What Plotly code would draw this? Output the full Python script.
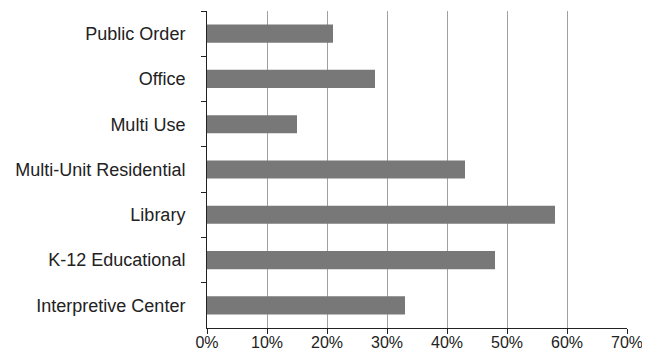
import plotly.graph_objects as go

categories = ["Public Order", "Office", "Multi Use", "Multi-Unit Residential",
              "Library", "K-12 Educational", "Interpretive Center"]
values = [21, 28, 15, 43, 58, 48, 33]
x_ticks = [0, 10, 20, 30, 40, 50, 60, 70]
x_tick_labels = ["0%", "10%", "20%", "30%", "40%", "50%", "60%", "70%"]

fig = go.Figure(go.Bar(
    y=categories, x=values, orientation="h",
    marker=dict(color="#787878", line=dict(width=0)),
))

# page body has an 8px default margin, so the figure is 642x350
fig.update_layout(
    width=642, height=350,
    margin=dict(l=199, r=23, t=3, b=30),
    paper_bgcolor="white", plot_bgcolor="white",
    bargap=0.6,
    showlegend=False,
    font=dict(family="Liberation Sans, Arial, sans-serif", size=16, color="#222222"),
)
fig.update_xaxes(
    range=[0, 70], tickvals=x_ticks, ticktext=x_tick_labels,
    showgrid=True, gridcolor="#a0a0a0", gridwidth=1,
    showline=True, linecolor="#222222", linewidth=1,
    ticks="outside", ticklen=5, tickcolor="#222222",
    zeroline=False, ticklabelstandoff=-5,
    tickfont=dict(size=16),
)
fig.update_yaxes(
    autorange="reversed", type="category",
    showline=True, linecolor="#222222", linewidth=1,
    ticks="outside", ticklen=5, tickcolor="#222222", tickson="boundaries",
    showgrid=False, ticklabelstandoff=17,
    tickfont=dict(size=18),
)

fig.write_html("out.html")
